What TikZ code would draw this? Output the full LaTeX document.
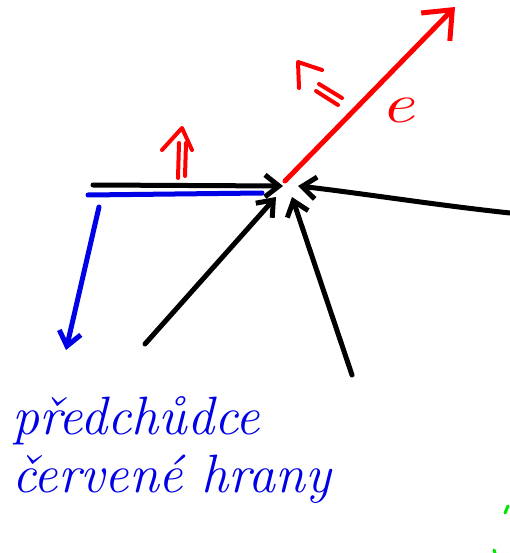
\documentclass[tikz,border=0pt]{standalone}
\usetikzlibrary{arrows.meta}
\definecolor{pblue}{RGB}{0,0,230}
\definecolor{pred}{RGB}{255,0,0}
\definecolor{pgreen}{RGB}{0,230,0}
\begin{document}
\begin{tikzpicture}[x=1pt,y=-1pt,
  stroke/.style={line width=5pt,line cap=round,line join=round},
  barb/.style={-{Straight Barb[length=14pt,width=22pt,line width=5pt]}},
  bigbarb/.style={-{Straight Barb[length=24pt,width=40pt,line width=5pt]}},
  handtext/.style={text=pblue,font=\fontsize{54}{60}\selectfont\itshape,anchor=base west,inner sep=0pt}]
\useasboundingbox (0,0) rectangle (510,553);
% convergence points
\coordinate (hub) at (283,186);
\coordinate (hubA) at (276,197);
\coordinate (hubB) at (292,197);
\coordinate (hubC) at (298,186);
% black horizontal arrow
\coordinate (hs) at (93,185);
\draw[stroke,barb] (hs) -- (hub);
% blue edge
\coordinate (bs) at (88,195);
\coordinate (be) at (262,193);
\draw[stroke,pblue] (bs) -- (be);
\coordinate (bas) at (99,207);
\coordinate (bae) at (66,350);
\draw[stroke,pblue,barb] (bas) -- (bae);
% black incoming arrows
\coordinate (k1) at (145,344);
\coordinate (k2) at (352,375);
\coordinate (k3) at (510,213);
\draw[stroke,barb] (k1) -- (hubA);
\draw[stroke,barb] (k2) -- (hubB);
\draw[stroke,barb] (k3) .. controls (435,205) and (360,193) .. (hubC);
% red edge e
\coordinate (rs) at (285,181);
\coordinate (re) at (455,7);
\draw[stroke,pred,bigbarb] (rs) -- (re);
\node[text=pred,font=\fontsize{56}{60}\selectfont\itshape,inner sep=0pt,xscale=1.35] (e) at (398,110) {e};
% red double arrows
\draw[stroke,pred,line width=4pt] (178,178) -- (179,143);
\draw[stroke,pred,line width=4pt] (185,176) -- (186,143);
\draw[stroke,pred,line width=4pt] (162,150) -- (182,128) -- (192,150);
\draw[stroke,pred,line width=4pt] (319,84) -- (342,98);
\draw[stroke,pred,line width=4pt] (316,91) -- (338,105);
\draw[stroke,pred,line width=4pt] (299,88) -- (298,62) -- (322,70);
% label
\node[handtext] (l1) at (12,434) {předchůdce};
\node[handtext] (l2) at (12,492) {červené hrany};
% green specks
\draw[pgreen,line width=3pt,line cap=round] (508,506) -- (505,513);
\draw[pgreen,line width=3pt,line cap=round] (494,550) -- (495,553);
\end{tikzpicture}
\end{document}
